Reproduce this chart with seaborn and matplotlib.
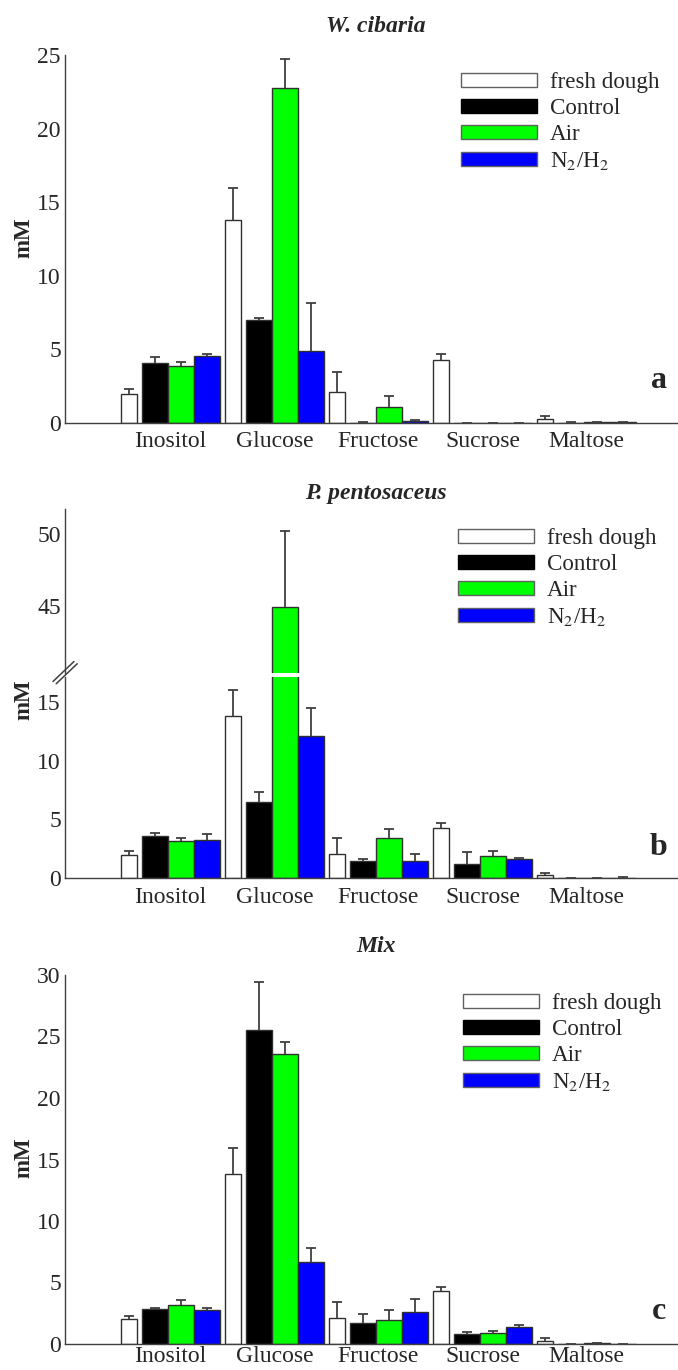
import numpy as np
import pandas as pd
import matplotlib
matplotlib.use("Agg")
import matplotlib.pyplot as plt
from matplotlib.patches import Patch
from matplotlib.lines import Line2D
import seaborn as sns

# ---- data -------------------------------------------------------------
sugars = ["Inositol", "Glucose", "Fructose", "Sucrose", "Maltose"]
series_labels = ["fresh dough", "Control", "Air", "N$_2$/H$_2$"]

# fresh dough (common reference for all three fermentations)
fresh_mean = [2.0, 13.8, 2.1, 4.3, 0.28]
fresh_sd = [0.31, 2.16, 1.35, 0.36, 0.18]

# a: W. cibaria
ctrl_a = [4.07, 6.97, 0.03, 0.02, 0.03]
ctrl_a_sd = [0.39, 0.16, 0.02, 0.0, 0.02]
air_a = [3.89, 22.74, 1.09, 0.02, 0.05]
air_a_sd = [0.23, 1.99, 0.72, 0.0, 0.0]
n2_a = [4.52, 4.89, 0.16, 0.02, 0.05]
n2_a_sd = [0.14, 3.23, 0.07, 0.0, 0.0]

# b: P. pentosaceus
ctrl_b = [3.63, 6.46, 1.47, 1.22, 0.04]
ctrl_b_sd = [0.20, 0.88, 0.14, 1.02, 0.02]
air_b = [3.14, 44.9, 3.46, 1.90, 0.02]
air_b_sd = [0.26, 5.36, 0.70, 0.45, 0.0]
n2_b = [3.26, 12.07, 1.50, 1.61, 0.05]
n2_b_sd = [0.51, 2.43, 0.57, 0.09, 0.02]

# c: Mix
ctrl_c = [2.87, 25.50, 1.71, 0.79, 0.02]
ctrl_c_sd = [0.08, 3.90, 0.76, 0.16, 0.0]
air_c = [3.17, 23.58, 1.98, 0.89, 0.05]
air_c_sd = [0.38, 0.97, 0.76, 0.17, 0.01]
n2_c = [2.76, 6.64, 2.57, 1.41, 0.02]
n2_c_sd = [0.19, 1.16, 1.06, 0.11, 0.0]

# ---- style ------------------------------------------------------------
sns.set_style("white")
plt.rcParams["font.family"] = ["Liberation Serif", "DejaVu Serif"]
plt.rcParams["mathtext.fontset"] = "stix"

COLORS = ["#ffffff", "#000000", "#00ff00", "#0000ff"]
EDGE = "#303030"
AXC = "#404040"
TICK_FS = 17
LEG_FS = 16.6

W, H = 678, 1370
fig = plt.figure(figsize=(W / 100, H / 100), dpi=100)


def fx(px):
    return px / W


def fy(py):
    return 1 - py / H


def add_axes(left, top, right, bottom):
    return fig.add_axes([fx(left), fy(bottom), fx(right) - fx(left), (bottom - top) / H])


def draw_bars(ax, treat_means, treat_sds):
    idx = np.arange(len(sugars))
    fresh_df = pd.DataFrame({"pos": idx - 0.40, "mM": fresh_mean})
    sns.barplot(data=fresh_df, x="pos", y="mM", native_scale=True, width=0.154,
                color=COLORS[0], saturation=1, edgecolor=EDGE, linewidth=1.0,
                errorbar=None, ax=ax)
    rows = []
    for name, vals in zip(series_labels[1:], treat_means):
        for i, v in enumerate(vals):
            rows.append({"pos": i + 0.10, "mM": v, "group": name})
    df = pd.DataFrame(rows)
    sns.barplot(data=df, x="pos", y="mM", hue="group", hue_order=series_labels[1:],
                palette=COLORS[1:], saturation=1, native_scale=True, width=0.75,
                dodge=True, edgecolor=EDGE, linewidth=1.0, errorbar=None,
                legend=False, ax=ax)
    # one-sided SD bars on top of each bar (upper cap only)
    for cont, sds in zip(list(ax.containers), [fresh_sd] + list(treat_sds)):
        xs = [b.get_x() + b.get_width() / 2 for b in cont]
        hs = [b.get_height() for b in cont]
        eb = ax.errorbar(xs, hs, yerr=[np.zeros(len(sds)), sds], fmt="none",
                         ecolor=AXC, elinewidth=1.3, capsize=3.6, capthick=1.3, zorder=3)
        caps = eb.lines[1]
        if len(caps) == 2:
            caps[0].set_visible(False)
    ax.set_xlim(-1.014, 4.88)
    ax.set_xlabel("")
    ax.set_ylabel("")


def style_axes(ax, show_x=True, xpad=6):
    sns.despine(ax=ax, top=True, right=True, bottom=not show_x)
    for s in ("left", "bottom"):
        ax.spines[s].set_color(AXC)
        ax.spines[s].set_linewidth(1.0)
    ax.tick_params(axis="y", length=0, pad=3, labelsize=TICK_FS)
    ax.tick_params(axis="x", length=0, pad=xpad, labelsize=TICK_FS)
    if show_x:
        ax.set_xticks(range(len(sugars)), sugars)
    else:
        ax.set_xticks([])


def add_legend(ax, left, top):
    handles = [Patch(facecolor=c, edgecolor=("#606060" if i != 1 else "#000000"), linewidth=1.0)
               for i, c in enumerate(COLORS)]
    ax.legend(handles, series_labels, loc="upper left",
              bbox_to_anchor=(fx(left), fy(top)), bbox_transform=fig.transFigure,
              frameon=False, fontsize=LEG_FS, borderpad=0, borderaxespad=0,
              handlelength=3.3, handleheight=0.57, handletextpad=0.55,
              labelspacing=0.22)


def panel_text(title, title_base, letter, letter_base, ylab_center):
    fig.text(fx(376), fy(title_base), title, ha="center", va="baseline",
             fontsize=17, fontweight="bold", fontstyle="italic")
    fig.text(fx(659), fy(letter_base), letter, ha="center", va="baseline",
             fontsize=23, fontweight="bold")
    fig.text(fx(24), fy(ylab_center), "mM", ha="center", va="center",
             rotation=90, fontsize=16.5, fontweight="bold")


# ---- panel a ----------------------------------------------------------
ax_a = add_axes(65, 55, 678, 423)
draw_bars(ax_a, [ctrl_a, air_a, n2_a], [ctrl_a_sd, air_a_sd, n2_a_sd])
ax_a.set_ylim(0, 25)
ax_a.set_yticks([0, 5, 10, 15, 20, 25])
style_axes(ax_a)
add_legend(ax_a, 461, 72)
panel_text("W. cibaria", 32, "a", 388, 238)

# ---- panel b (broken y axis) -----------------------------------------
ax_b_hi = add_axes(65, 509.3, 678, 672.7)
ax_b_lo = add_axes(65, 677.3, 678, 878.3)
for ax in (ax_b_hi, ax_b_lo):
    draw_bars(ax, [ctrl_b, air_b, n2_b], [ctrl_b_sd, air_b_sd, n2_b_sd])
ax_b_hi.set_ylim(40.35, 51.74)
ax_b_hi.set_yticks([45, 50])
ax_b_lo.set_ylim(0, 17.08)
ax_b_lo.set_yticks([0, 5, 10, 15])
style_axes(ax_b_hi, show_x=False)
style_axes(ax_b_lo)
ax_b_hi.patch.set_alpha(0)
add_legend(ax_b_hi, 458, 528)
panel_text("P. pentosaceus", 499, "b", 855, 700)
for dx in (0, 3.2):
    fig.add_artist(Line2D([fx(53 + dx), fx(74 + dx)], [fy(681.5 + dx * 0.7), fy(661.5 + dx * 0.7)],
                          color=AXC, linewidth=1.1))

# ---- panel c ----------------------------------------------------------
ax_c = add_axes(65, 975, 678, 1344)
draw_bars(ax_c, [ctrl_c, air_c, n2_c], [ctrl_c_sd, air_c_sd, n2_c_sd])
ax_c.set_ylim(0, 30)
ax_c.set_yticks([0, 5, 10, 15, 20, 25, 30])
style_axes(ax_c, xpad=1.5)
add_legend(ax_c, 463, 993)
panel_text("Mix", 952, "c", 1319, 1158)

fig.savefig("out.png", dpi=100)
